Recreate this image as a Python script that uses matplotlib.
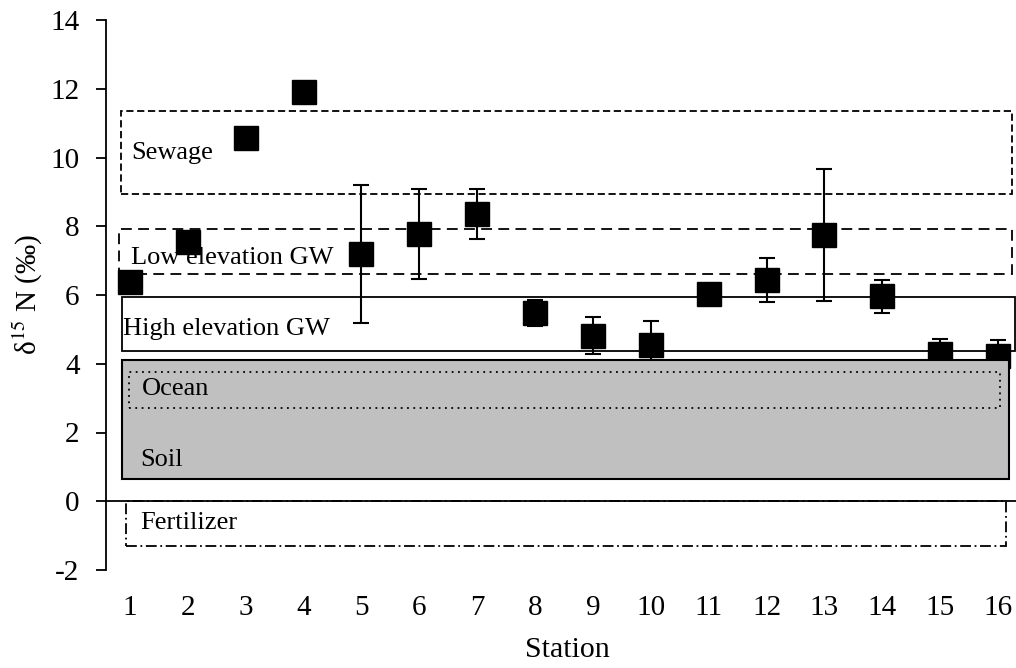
import matplotlib
matplotlib.use('Agg')
from matplotlib import pyplot as plt
from matplotlib.patches import Rectangle
import numpy as np

plt.rcParams['font.family'] = ['Liberation Serif', 'DejaVu Serif']
plt.rcParams['mathtext.fontset'] = 'stix'
plt.rcParams['axes.unicode_minus'] = False

# ---- data ----
stations = list(range(1, 17))
d15n = [6.38, 7.55, 10.57, 11.9, 7.2, 7.78, 8.36, 5.47, 4.82, 4.55, 6.03, 6.44, 7.75, 5.96, 4.27, 4.24]
d15n_err = [0, 0, 0, 0, 2.0, 1.3, 0.73, 0.38, 0.53, 0.7, 0, 0.64, 1.93, 0.47, 0.46, 0.44]

# source ranges (low, high) in permil
source_names = ['Sewage', 'Low elevation GW', 'High elevation GW', 'Soil', 'Ocean', 'Fertilizer']
source_low = [8.95, 6.62, 4.38, 0.66, 2.72, -1.3]
source_high = [11.35, 7.92, 5.95, 4.12, 3.77, 0.0]

# ---- figure ----
fig = plt.figure(figsize=(10.16, 6.68), dpi=100)
ax = fig.add_axes([106 / 1016, 1 - 570 / 668, 910 / 1016, 550 / 668])

# box styling: (x0, x1, linestyle, facecolor, lw, zorder, label x, label y)
box_style = {
    'Sewage':            (0.845, 16.24, (0, (4, 2)), 'none', 1.3, 1, 1.02, 10.13),
    'Low elevation GW':  (0.81, 16.24, (0, (6, 3.5)), 'none', 1.3, 1, 1.02, 7.08),
    'High elevation GW': (0.86, 16.29, '-', 'none', 1.3, 1, 0.88, 5.02),
    'Soil':              (0.86, 16.19, '-', '#c0c0c0', 1.5, 4, 1.17, 1.21),
    'Ocean':             (0.98, 16.03, (0, (1, 2.5)), 'none', 1.3, 5, 1.21, 3.27),
    'Fertilizer':        (0.93, 16.14, (0, (6, 2, 1, 2)), 'none', 1.3, 1, 1.17, -0.62),
}

for name, lo, hi in zip(source_names, source_low, source_high):
    x0, x1, ls, fc, lw, z, tx, ty = box_style[name]
    ax.add_patch(Rectangle((x0, lo), x1 - x0, hi - lo, facecolor=fc, edgecolor='black',
                           linestyle=ls, linewidth=lw, zorder=z))
    ax.text(tx, ty, name, fontsize=19, ha='left', va='center', zorder=6)

# station means with error bars
err = np.array(d15n_err)
mask = err > 0
ax.errorbar(np.array(stations)[mask], np.array(d15n)[mask], yerr=err[mask], fmt='none',
            ecolor='black', elinewidth=1.5, capsize=6, capthick=1.5, zorder=2.5)
ax.plot(stations, d15n, linestyle='none', marker='s', markersize=17, color='black', zorder=3)

# zero line acts as the horizontal axis
ax.axhline(0, color='black', linewidth=1.3, zorder=2)

ax.set_xlim(0.585, 16.31)
ax.set_ylim(-2, 14)
ax.set_yticks(np.arange(-2, 15, 2))
ax.set_xticks(stations)
ax.set_xticklabels([str(s) for s in stations])

for side in ['top', 'right', 'bottom']:
    ax.spines[side].set_visible(False)
ax.spines['left'].set_linewidth(1.3)

ax.tick_params(axis='y', direction='out', length=7, width=1.3, pad=12, labelsize=21)
ax.tick_params(axis='x', length=0, pad=18, labelsize=21)

ax.set_xlabel('Station', fontsize=21.5)
ax.xaxis.set_label_coords(0.507, -0.122)
ax.set_ylabel(r'δ$^{15}$ N (‰)', fontsize=21, labelpad=4)

fig.savefig('out.png', dpi=100)
